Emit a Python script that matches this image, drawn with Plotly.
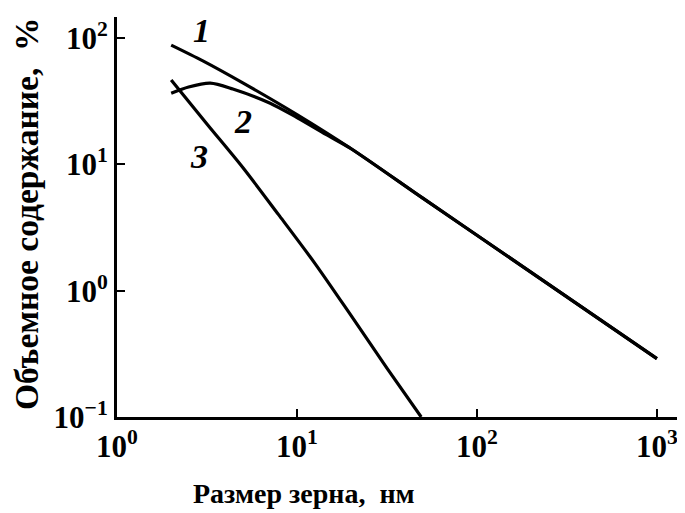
import plotly.graph_objects as go

# Curve 1
size_1 = [2, 3, 5, 10, 20, 50, 100, 1000]
vol_1 = [88, 66, 44.2, 24.8, 13.3, 5.4, 2.75, 0.29]
# Curve 2
size_2 = [2, 2.5, 3.3, 4.4, 7.1, 10, 15, 20, 50, 100, 1000]
vol_2 = [36.6, 41, 44, 39.5, 30.5, 23.5, 16.8, 13.3, 5.4, 2.75, 0.29]
# Curve 3
size_3 = [2, 3.16, 5, 7.9, 12.6, 20, 31.6, 49]
vol_3 = [46.5, 20.9, 9.45, 4.0, 1.64, 0.634, 0.244, 0.1]

curve_names = ["1", "2", "3"]

x_tickvals = [1, 10, 100, 1000]
x_ticktext = ["10<sup>0</sup>", "10<sup>1</sup>", "10<sup>2</sup>", "10<sup>3</sup>"]
y_tickvals = [0.1, 1, 10, 100]
y_ticktext = ["10<sup>−1</sup>", "10<sup>0</sup>", "10<sup>1</sup>", "10<sup>2</sup>"]

x_title = "Размер зерна,  нм"
y_title = "Объемное содержание,  %"

FONT = "Liberation Serif"

fig = go.Figure()
for xs, ys, nm in [(size_1, vol_1, curve_names[0]),
                   (size_2, vol_2, curve_names[1]),
                   (size_3, vol_3, curve_names[2])]:
    fig.add_trace(go.Scatter(x=xs, y=ys, mode="lines", name=nm,
                             line=dict(color="black", width=3.2, shape="spline", smoothing=0.8),
                             showlegend=False))

label_pos = [(0.472, 2.063), (0.70, 1.341), (0.456, 1.063)]
for nm, (lx, ly) in zip(curve_names, label_pos):
    fig.add_annotation(x=lx, y=ly, xref="x", yref="y", text="<b><i>" + nm + "</i></b>",
                       showarrow=False, font=dict(family=FONT, size=34, color="black"))

fig.add_annotation(x=0.329, y=-0.1925, xref="paper", yref="paper", text="<b>" + x_title + "</b>",
                   showarrow=False, font=dict(family=FONT, size=28, color="black"),
                   xanchor="center", yanchor="middle")
fig.add_annotation(x=-0.160, y=0.5075, xref="paper", yref="paper", text="<b>" + y_title + "</b>",
                   showarrow=False, textangle=-90, font=dict(family=FONT, size=33.5, color="black"),
                   xanchor="center", yanchor="middle")

axis_common = dict(showline=True, linecolor="black", linewidth=3, showgrid=False,
                   zeroline=False, ticks="inside", ticklen=8, tickwidth=2, tickcolor="black",
                   tickmode="array", automargin=False,
                   tickfont=dict(family=FONT, size=31, color="black"))

fig.update_xaxes(type="log", range=[0, 3.156], tickvals=x_tickvals,
                 ticktext=["<b>" + t + "</b>" for t in x_ticktext], **axis_common)
fig.update_yaxes(type="log", range=[-1, 2.167], tickvals=y_tickvals,
                 ticktext=["<b>" + t + "</b>" for t in y_ticktext], **axis_common)

# page body has an 8px margin; figure is sized/offset to compensate
fig.update_layout(width=677, height=505, margin=dict(l=109, r=0, t=9, b=96),
                  plot_bgcolor="white", paper_bgcolor="white")

fig.write_html("out.html")
